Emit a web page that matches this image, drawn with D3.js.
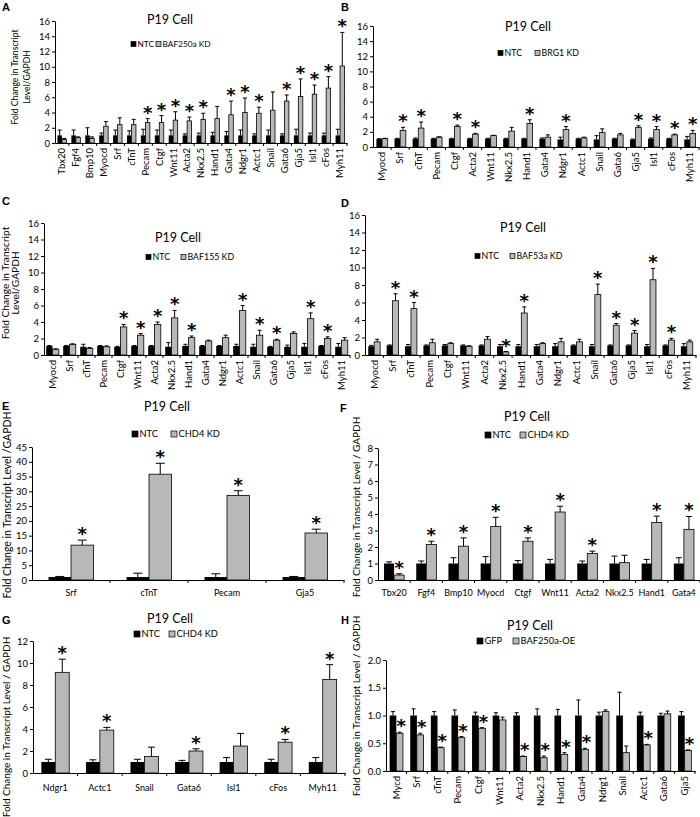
<!DOCTYPE html>
<html><head><meta charset="utf-8">
<script src="https://cdn.jsdelivr.net/npm/d3@7"></script>
<style>body{margin:0;background:#fff}svg{display:block}</style>
</head><body>
<script>
// ---------- DATA ----------
// Panel A : BAF250a KD
const catsA=["Tbx20","Fgf4","Bmp10","Myocd","Srf","cTnT","Pecam","Ctgf","Wnt11","Acta2","Nkx2.5","Hand1","Gata4","Ndgr1","Actc1","Snail","Gata6","Gja5","Isl1","cFos","Myh11"];
const ntcA=[1,1,1,1,1,1,1,1,1,1,1,1,1,1,1,1,1,1,1,1,1];
const ntcErrA=[0.7,0.7,1.0,0.3,0.7,0.6,0.8,0.7,0.7,0.2,0.3,0.4,0.5,0.7,0.2,0.7,0.2,0.8,0.3,0.3,0.8];
const kdA=[0.45,0.7,0.6,2.2,2.4,2.4,2.7,2.7,3.0,2.9,3.1,3.2,3.7,4.0,3.9,4.3,5.5,6.1,6.4,7.2,10.1];
const kdErrA=[0.15,0.1,0.2,0.6,0.9,0.7,0.5,0.9,1.1,0.5,0.8,1.6,1.8,1.9,0.8,2.4,0.8,2.3,1.2,1.5,4.4];
const starA=[0,0,0,0,0,0,1,1,1,1,1,0,1,1,1,0,1,1,1,1,1];
// Panel B : BRG1 KD
const catsB=["Myocd","Srf","cTnT","Pecam","Ctgf","Acta2","Wnt11","Nkx2.5","Hand1","Gata4","Ndgr1","Actc1","Snail","Gata6","Gja5","Isl1","cFos","Myh11"];
const ntcB=[1.05,1.1,1.1,1.1,1.1,1.1,1.1,1.1,1.1,1.1,1.0,1.1,1.0,1.1,1.0,1.1,1.1,1.0];
const ntcErrB=[0.05,0.05,0.1,0.05,0.05,0.05,0.05,0.05,0.05,0.1,0.3,0.05,0.5,0.05,0.05,0.1,0.05,0.4];
const kdB=[1.1,2.2,2.5,1.3,2.7,1.7,1.5,2.1,3.1,1.3,2.3,1.2,1.9,1.6,2.6,2.3,1.6,1.8];
const kdErrB=[0.05,0.4,0.8,0.05,0.2,0.1,0.05,0.5,0.5,0.3,0.4,0.1,0.5,0.2,0.2,0.4,0.1,0.4];
const starB=[0,1,1,0,1,1,0,0,1,0,1,0,0,0,1,1,1,1];
// Panel C : BAF155 KD
const catsC=["Myocd","Srf","cTnT","Pecam","Ctgf","Wnt11","Acta2","Nkx2.5","Hand1","Gata4","Ndgr1","Actc1","Snail","Gata6","Gja5","Isl1","cFos","Myh11"];
const ntcC=[1.1,1.1,1.0,1.1,1.0,1.1,1.1,1.0,1.1,1.1,1.1,1.1,1.0,1.0,1.0,1.0,1.1,1.0];
const ntcErrC=[0.05,0.05,0.3,0.05,0.05,0.05,0.05,0.5,0.2,0.05,0.05,0.2,0.3,0.05,0.2,0.4,0.05,0.4];
const kdC=[0.7,1.3,0.8,1.0,3.4,2.4,3.7,4.5,2.1,1.7,2.1,5.4,2.4,1.8,2.6,4.4,2.0,1.8];
const kdErrC=[0.05,0.05,0.1,0.1,0.3,0.2,0.3,0.9,0.2,0.1,0.3,0.6,0.6,0.1,0.2,0.7,0.2,0.3];
const starC=[0,0,0,0,1,1,1,1,1,0,0,1,1,1,0,1,1,0];
// Panel D : BAF53a KD
const catsD=["Myocd","Srf","cTnT","Pecam","Ctgf","Wnt11","Acta2","Nkx2.5","Hand1","Gata4","Ndgr1","Actc1","Snail","Gata6","Gja5","Isl1","cFos","Myh11"];
const ntcD=[1.0,1.1,1.0,1.1,1.1,1.1,1.1,1.0,1.0,1.0,1.0,1.1,1.0,1.1,1.1,1.0,1.1,1.0];
const ntcErrD=[0.1,0.05,0.2,0.05,0.1,0.05,0.05,0.2,0.2,0.2,0.3,0.05,0.2,0.05,0.05,0.2,0.05,0.3];
const kdD=[1.5,6.2,5.3,1.4,1.3,1.0,1.8,0.35,4.8,1.3,1.5,1.5,6.9,3.4,2.5,8.6,1.7,1.5];
const kdErrD=[0.3,0.8,0.7,0.4,0.1,0.05,0.3,0.05,0.7,0.1,0.4,0.3,1.2,0.2,0.3,1.3,0.2,0.2];
const starD=[0,1,1,0,0,0,0,1,1,0,0,0,1,1,1,1,1,0];
// Panel E : CHD4 KD
const catsE=["Srf","cTnT","Pecam","Gja5"];
const ntcE=[1,1,1,1];
const ntcErrE=[0.2,1.3,1.1,0.2];
const kdE=[11.8,35.8,28.6,15.9];
const kdErrE=[1.7,3.7,1.6,1.3];
const starE=[1,1,1,1];
// Panel F : CHD4 KD
const catsF=["Tbx20","Fgf4","Bmp10","Myocd","Ctgf","Wnt11","Acta2","Nkx2.5","Hand1","Gata4"];
const ntcF=[1,1,1,1,1,1,1,1,1,1];
const ntcErrF=[0.1,0.15,0.35,0.42,0.18,0.25,0.15,0.45,0.25,0.35];
const kdF=[0.3,2.15,2.05,3.25,2.35,4.12,1.6,1.05,3.48,3.07];
const kdErrF=[0.08,0.2,0.5,0.55,0.2,0.35,0.15,0.45,0.39,0.78];
const starF=[1,1,1,1,1,1,1,0,1,1];
// Panel G : CHD4 KD
const catsG=["Ndgr1","Actc1","Snail","Gata6","Isl1","cFos","Myh11"];
const ntcG=[1,1,1,1,1,1,1];
const ntcErrG=[0.25,0.2,0.25,0.15,0.4,0.25,0.4];
const kdG=[9.15,3.9,1.5,2.0,2.45,2.8,8.5];
const kdErrG=[1.2,0.25,0.85,0.2,1.15,0.25,1.35];
const starG=[1,1,0,1,0,1,1];
// Panel H : BAF250a-OE
const catsH=["Mycd","Srf","cTnT","Pecam","Ctgf","Wnt11","Acta2","Nkx2.5","Hand1","Gata4","Ndrg1","Snail","Actc1","Gata6","Gja5"];
const gfpH=[1,1,1,1,1,1,1,1,1,1,1,1,1,1,1];
const gfpErrH=[0.07,0.12,0.07,0.1,0.06,0.05,0.05,0.12,0.11,0.28,0.06,0.42,0.06,0.04,0.07];
const oeH=[0.68,0.65,0.42,0.6,0.77,0.92,0.26,0.24,0.3,0.39,1.07,0.33,0.47,1.03,0.37];
const oeErrH=[0.02,0.03,0.01,0.02,0.01,0.05,0.01,0.03,0.03,0.02,0.03,0.12,0.01,0.05,0.01];
const starH=[1,1,1,1,1,0,1,1,1,1,0,0,1,0,1];

// ---------- DRAWING ----------
const FONT="Lato, 'Open Sans', sans-serif";
const GRAY="#b8b8b8";
const svg=d3.select("body").append("svg").attr("width",700).attr("height",817);
svg.append("rect").attr("width",700).attr("height",817).attr("fill","#fff");

function drawPanel(c){
  const g=svg.append("g");
  const x=d3.scaleBand().domain(c.cats).range([c.x0,c.x1]);
  const y=d3.scaleLinear().domain([0,c.ymax]).range([c.y0,c.yTop]);
  const bw=x.bandwidth()/c.ratio;
  const rows=c.cats.map((k,i)=>({k,i,v1:c.s1[i],e1:c.e1[i],v2:c.s2[i],e2:c.e2[i],st:c.star[i]}));
  const cx=d=>x(d.k)+x.bandwidth()/2;

  // y axis
  const ya=g.append("g").attr("transform",`translate(${c.x0},0)`)
    .call(d3.axisLeft(y).tickValues(d3.range(0,c.ymax+c.step/2,c.step)).tickSize(3).tickSizeOuter(0).tickPadding(2).tickFormat(d3.format(c.fmt||"d")));
  ya.attr("font-family",FONT).attr("font-size",c.tickFs||9.5);
  ya.selectAll("path,line").attr("stroke","#000").attr("stroke-width",1);
  ya.selectAll("text").attr("fill","#000");

  // x axis
  const xa=g.append("g").attr("transform",`translate(0,${c.y0})`)
    .call(d3.axisBottom(x).tickSize(0).tickSizeOuter(0));
  xa.attr("font-family",FONT).attr("font-size",c.catFs||9.5);
  xa.select(".domain").attr("stroke","#000").attr("stroke-width",1);
  if(c.rotate){
    xa.selectAll("text").attr("transform","rotate(-90)").attr("text-anchor","end")
      .attr("x",-5).attr("y",0).attr("dy","0.35em").attr("fill","#000");
  } else {
    xa.selectAll("text").attr("y",c.labOff||13).attr("dy","0.35em").attr("fill","#000");
  }
  g.append("g").selectAll("line").data(d3.range(1,c.cats.length+1)).join("line")
    .attr("x1",i=>c.x0+i*x.bandwidth()).attr("x2",i=>c.x0+i*x.bandwidth())
    .attr("y1",c.y0).attr("y2",c.y0+3).attr("stroke","#000");

  // bars
  g.append("g").selectAll("rect").data(rows).join("rect")
    .attr("x",d=>cx(d)-bw).attr("width",bw)
    .attr("y",d=>y(d.v1)).attr("height",d=>y(0)-y(d.v1)).attr("fill","#000");
  g.append("g").selectAll("rect").data(rows).join("rect")
    .attr("x",d=>cx(d)).attr("width",bw)
    .attr("y",d=>y(d.v2)).attr("height",d=>y(0)-y(d.v2))
    .attr("fill",GRAY).attr("stroke","#000").attr("stroke-width",0.8);

  // error bars
  const eb=g.append("g").attr("stroke","#000").attr("stroke-width",1);
  [[-0.5,"v1","e1"],[0.5,"v2","e2"]].forEach(([off,v,e])=>{
    const bx=d=>cx(d)+off*bw;
    eb.append("g").selectAll("line").data(rows).join("line")
      .attr("x1",bx).attr("x2",bx).attr("y1",d=>y(d[v])).attr("y2",d=>y(d[v]+d[e]));
    eb.append("g").selectAll("line").data(rows).join("line")
      .attr("x1",d=>bx(d)-c.cap/2).attr("x2",d=>bx(d)+c.cap/2)
      .attr("y1",d=>y(d[v]+d[e])).attr("y2",d=>y(d[v]+d[e]));
  });

  // stars
  g.append("g").selectAll("text").data(rows.filter(d=>d.st)).join("text")
    .attr("x",d=>cx(d)+0.5*bw+(c.starDx||0)).attr("y",d=>y(d.v2+d.e2))
    .attr("text-anchor","middle").attr("font-family","DejaVu Sans").attr("font-weight","bold")
    .attr("font-size",c.starFs||18).text("*");

  // title
  g.append("text").attr("x",c.tx).attr("y",c.ty).attr("text-anchor","middle")
    .attr("font-family",FONT).attr("font-size",12.5).text("P19 Cell");

  // legend
  const L=c.legend, bs=L.box||5;
  const lg=g.append("g").attr("font-family",FONT).attr("font-size",L.fs||8.8);
  [[L.x1,"#000",c.names[0]],[L.x2,GRAY,c.names[1]]].forEach(([lx,fill,name])=>{
    lg.append("rect").attr("x",lx).attr("y",L.y-bs/2).attr("width",bs).attr("height",bs)
      .attr("fill",fill).attr("stroke","#000").attr("stroke-width",0.7);
    lg.append("text").attr("x",lx+bs+1.5).attr("y",L.y).attr("dy","0.35em").text(name);
  });

  // y title
  if(c.ytitle){
    c.ytitle.lines.forEach((t,i)=>{
      g.append("text").attr("transform",`translate(${c.ytitle.xs[i]},${c.ytitle.cy}) rotate(-90)`)
        .attr("text-anchor","middle").attr("dy","0.35em")
        .attr("font-family",FONT).attr("font-size",c.ytitle.fs).text(t);
    });
  }
  // panel letter
  g.append("text").attr("x",c.letter[1]).attr("y",c.letter[2])
    .attr("font-family","Liberation Sans, Arial, sans-serif").attr("font-weight","bold")
    .attr("font-size",11).text(c.letter[0]);
}

const T2=["Fold Change in Transcript","Level/GAPDH"];
drawPanel({cats:catsA,s1:ntcA,e1:ntcErrA,s2:kdA,e2:kdErrA,star:starA,names:["NTC","BAF250a KD"],
  x0:55,x1:347,y0:143,yTop:21,ymax:16,step:2,rotate:true,ratio:3.1,cap:4,
  tx:170,ty:24,legend:{y:44,x1:131,x2:156,fs:8.3},ytitle:{lines:T2,xs:[15,27],cy:77,fs:8.6},letter:["A",2,11]});
drawPanel({cats:catsB,s1:ntcB,e1:ntcErrB,s2:kdB,e2:kdErrB,star:starB,names:["NTC","BRG1 KD"],
  x0:373,x1:699,y0:147,yTop:26,ymax:16,step:2,rotate:true,ratio:3.2,cap:4,
  tx:528,ty:31,legend:{y:53,x1:498,x2:535},letter:["B",341,11]});
drawPanel({cats:catsC,s1:ntcC,e1:ntcErrC,s2:kdC,e2:kdErrC,star:starC,names:["NTC","BAF155 KD"],
  x0:44,x1:350,y0:355,yTop:223,ymax:16,step:2,rotate:true,ratio:2.7,cap:4,
  tx:178,ty:242,legend:{y:257,x1:146,x2:181},ytitle:{lines:T2,xs:[5,15],cy:283,fs:10.2},letter:["C",2,205]});
drawPanel({cats:catsD,s1:ntcD,e1:ntcErrD,s2:kdD,e2:kdErrD,star:starD,names:["NTC","BAF53a KD"],
  x0:365,x1:696,y0:355,yTop:215,ymax:16,step:2,rotate:true,ratio:3.1,cap:4,
  tx:523,ty:232,legend:{y:256,x1:475,x2:510},letter:["D",341,207]});
drawPanel({cats:catsE,s1:ntcE,e1:ntcErrE,s2:kdE,e2:kdErrE,star:starE,names:["NTC","CHD4 KD"],
  x0:32,x1:344,y0:580,yTop:447,ymax:45,step:5,rotate:false,ratio:3.47,cap:9,catFs:9,
  tx:167,ty:411,legend:{y:434,x1:132,x2:171,box:6,fs:9.3},ytitle:{lines:["Fold Change in Transcript Level /GAPDH"],xs:[7],cy:505,fs:10.5},letter:["E",2,410]});
drawPanel({cats:catsF,s1:ntcF,e1:ntcErrF,s2:kdF,e2:kdErrF,star:starF,names:["NTC","CHD4 KD"],
  x0:378,x1:700,y0:580,yTop:448,ymax:8,step:1,rotate:false,ratio:3.2,cap:6,catFs:9,
  tx:527,ty:421,legend:{y:435,x1:485,x2:520,box:6,fs:9.3},ytitle:{lines:["Fold Change in Transcript Level / GAPDH"],xs:[356],cy:507,fs:10},letter:["F",340,412]});
drawPanel({cats:catsG,s1:ntcG,e1:ntcErrG,s2:kdG,e2:kdErrG,star:starG,names:["NTC","CHD4 KD"],
  x0:33,x1:345,y0:773,yTop:641,ymax:12,step:2,rotate:false,ratio:3.2,cap:7,catFs:9,labOff:15,
  tx:170,ty:623,legend:{y:634,x1:134,x2:169,box:6,fs:9.3},ytitle:{lines:["Fold Change in Transcript Level / GAPDH"],xs:[6],cy:727,fs:10},letter:["G",2,624]});
drawPanel({cats:catsH,s1:gfpH,e1:gfpErrH,s2:oeH,e2:oeErrH,star:starH,names:["GFP","BAF250a-OE"],
  x0:386,x1:695,y0:771,yTop:660,ymax:2,step:0.5,fmt:".1f",rotate:true,ratio:3.1,cap:4,starDx:1.5,
  tx:530,ty:630,legend:{y:641,x1:477,x2:513,box:6,fs:9.3},ytitle:{lines:["Fold Change in Transcript Level / GAPDH"],xs:[356],cy:706,fs:10},letter:["H",341,624]});
</script>
</body></html>
